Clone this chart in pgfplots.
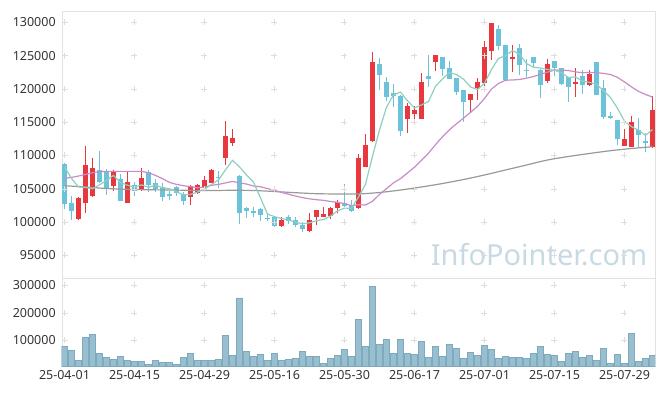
\documentclass[border=0pt]{standalone}
\usepackage{fontspec}
\setmainfont{Noto Sans}
\usepackage{pgfplots}
\usepackage{pgfplotstable}
\pgfplotsset{compat=1.18}
\definecolor{cUp}{HTML}{E9383D}
\definecolor{cDn}{HTML}{6CC3D9}
\definecolor{cMAa}{HTML}{8ECFC1}
\definecolor{cMAb}{HTML}{C98CC8}
\definecolor{cMAc}{HTML}{999999}
\definecolor{cVol}{HTML}{98BFD0}
\definecolor{cVolE}{HTML}{7FAABD}
\definecolor{cGrid}{HTML}{DDDDDD}
\definecolor{cAxis}{HTML}{E2E2E2}
\definecolor{cText}{HTML}{333333}
\definecolor{cWm}{HTML}{C7DAE4}

\pgfplotstableread{
i o h l c
2 100500 103700 100300 103600
3 102900 111400 101400 108500
4 103900 109600 103800 108100
7 105400 107800 104700 107500
9 102900 107500 102900 106000
11 105000 108100 104600 106600
18 103700 105600 102600 105400
19 104300 105700 104200 105500
20 105260 106900 105200 106300
21 105900 107960 105850 107800
23 109570 115220 108560 112920
24 111910 113920 111490 112620
31 99400 100700 99200 100300
35 98700 101300 98450 100300
36 100800 101800 99500 101800
37 100800 102300 100700 101200
38 100850 102200 100500 102030
39 102030 103300 101350 103000
42 102030 110210 101950 109660
43 108300 113170 108260 111570
44 112210 125580 112060 123990
49 115520 117830 113410 117420
50 116270 117380 115220 116820
51 115520 122330 115520 121030
53 124080 125150 122730 125080
58 118370 119250 116570 119230
59 120080 121580 118320 121030
60 120920 127140 120380 126280
61 125730 129900 124330 129850
64 124530 126540 122480 124780
69 121130 124530 120880 123730
73 120830 123060 118820 121070
75 120530 122760 120500 122230
80 111420 113920 111400 112510
81 111310 115920 111300 115020
84 111310 118930 111040 116820
}\upc

\pgfplotstableread{
i o h l c
0 108711 108800 102000 102704
1 102900 103900 100300 101700
5 107800 110600 105900 106000
6 107700 108000 104050 104900
8 106400 107200 103150 103200
10 105500 106000 103900 104600
12 107500 107800 104500 105600
13 105900 106450 104500 105000
14 105330 105800 103200 103800
15 104200 104600 103300 104000
16 105200 105400 103900 104300
17 104200 104500 102550 103200
22 106800 107700 105100 106600
25 106900 107000 99700 101400
26 102030 102200 100560 101650
27 101700 102300 100700 101400
28 102000 102050 100200 101050
29 100650 101400 100200 100450
30 100700 100900 99200 99400
32 100700 101050 99700 100200
33 100300 100700 99300 99620
34 99500 100000 98450 99000
40 102800 105700 102300 102400
41 102480 103380 101550 101700
45 123730 124560 119830 122120
46 121030 121820 118170 118820
47 119300 120700 117270 118930
48 118930 119000 112920 113710
52 121930 125080 120280 121520
54 124780 124830 122000 123030
55 123130 124130 121480 121520
56 121630 121650 119080 119570
57 119830 119850 115070 118070
62 128990 129530 125880 126480
63 126590 126600 121280 121280
65 126130 126660 122050 123650
66 122870 124480 121820 122680
67 124780 124800 123280 123810
68 122830 123000 118550 120620
70 124180 124200 121980 123130
71 123130 123150 120650 120730
72 121780 121800 118070 120320
74 121930 122760 119270 120530
76 124030 124050 119120 119120
77 120130 121330 115430 115820
78 115900 116570 115430 115700
79 115320 115350 111520 112510
82 113820 115580 111270 113070
83 112100 113320 110560 111930
}\dnc

\pgfplotstableread{
i v
0 108260
1 106550
2 105260
3 105180
4 105000
5 105580
6 106220
7 107000
8 105940
9 105520
10 105240
11 105580
12 105200
13 105560
14 105120
15 105010
16 104550
17 104070
18 104150
19 104490
20 104940
21 105640
22 106330
23 107834
24 109258
25 108278
26 107048
27 105998
28 103624
29 101200
30 100800
31 100530
32 100290
33 100004
34 99704
35 99884
36 100184
37 100384
38 100866
39 101666
40 102086
41 102066
42 103758
43 105666
44 109864
45 113808
46 117232
47 119086
48 119514
49 118200
50 117140
51 117582
52 118100
53 120374
54 121496
55 122436
56 122144
57 121454
58 120284
59 119884
60 120836
61 122892
62 124574
63 124984
64 125734
65 125208
66 123784
67 123250
68 123118
69 122908
70 122804
71 122404
72 121706
73 121796
74 121156
75 120976
76 120654
77 119754
78 118694
79 117090
80 115146
81 114326
82 113776
83 113016
84 113878
}\maA

\pgfplotstableread{
i v
0 106560
1 106700
2 106900
3 107150
4 107400
5 107560
6 107600
7 107600
8 107600
9 107600
10 107600
11 107600
12 107400
13 107000
14 106500
15 105950
16 105650
17 105450
18 105300
19 105150
20 105193
21 105498
22 105650
23 105871
24 106097
25 105867
26 105705
27 105400
28 105292
29 105017
30 104757
31 104442
32 104172
33 103903
34 103663
35 103476
36 103351
37 103251
38 103082
39 102957
40 102762
41 102457
42 102608
43 102540
44 103109
45 104145
46 105003
47 105880
48 106513
49 107359
50 108230
51 109266
52 110332
53 111605
54 112807
55 113868
56 114756
57 115600
58 116460
59 117361
60 118555
61 119963
62 120804
63 121289
64 121329
65 121405
66 121601
67 121845
68 122190
69 122506
70 122821
71 122806
72 122746
73 122546
74 122421
75 122456
76 122434
77 122321
78 122148
79 121722
80 121034
81 120292
82 119622
83 119156
84 118758
}\maB

\pgfplotstableread{
i v
0 105450
3 105260
6 105030
9 104910
12 104840
15 104810
18 104760
21 104730
24 104760
27 104730
30 104580
33 104400
36 104250
39 104210
42 104210
45 104430
48 104800
51 105260
54 105780
57 106380
60 107060
63 107810
66 108560
69 109310
72 109840
75 110290
78 110710
81 111040
84 111310
}\maC

\pgfplotstableread{
i v
0 78600
1 64300
2 28600
3 110700
4 121400
5 53600
6 39300
7 32100
8 42900
9 28600
10 25000
11 25000
12 14300
13 28600
14 21400
15 21400
16 14300
17 39300
18 53600
19 28600
20 28600
21 28600
22 32100
23 117800
24 46400
25 253500
26 60700
27 42900
28 50000
29 28600
30 53600
31 28600
32 32100
33 35700
34 60700
35 42900
36 42900
37 17900
38 35700
39 46400
40 67900
41 42900
42 175000
43 78600
44 293900
45 85700
46 103600
47 53600
48 103600
49 53600
50 50000
51 96400
52 39300
53 78600
54 42900
55 85700
56 71400
57 35700
58 57100
59 46400
60 82100
61 67900
62 35700
63 42900
64 39300
65 39300
66 35700
67 53600
68 78600
69 50000
70 46400
71 25000
72 53600
73 60700
74 39300
75 46400
76 28600
77 71400
78 17900
79 50000
80 17900
81 125000
82 25000
83 35700
84 46400
}\vol

\pgfplotsset{
  panel/.style={
    scale only axis, width=593.3pt,
    xmin=-0.4, xmax=84.36,
    axis line style={cAxis},
    major tick length=0pt,
    scaled y ticks=false, scaled x ticks=false,
    xtick={0,10,20,30,40,50,60,70,80},
    tick label style={font=\fontsize{12.5}{14}\selectfont, text=cText},
    yticklabel style={xshift=-2.5pt},
    clip=true,
  },
  wick/.style={draw=none, mark=none, forget plot,
    error bars/.cd, y dir=both, y explicit, error mark=none,
    error bar style={draw=#1, solid, line width=1.1pt}},
  body/.style={draw=none, mark=none, forget plot,
    error bars/.cd, y dir=both, y explicit, error mark=none,
    error bar style={draw=#1, solid, line width=4.6pt}},
}

\begin{document}
\begin{tikzpicture}
\node[text=cWm, font=\fontsize{29}{30}\selectfont] at (539pt,141pt) {InfoPointer.com};

\begin{axis}[panel, at={(61.7pt,118pt)}, anchor=south west, height=267pt,
  ymin=91590, ymax=131690,
  ytick={95000,100000,105000,110000,115000,120000,125000,130000},
  yticklabels={95000,100000,105000,110000,115000,120000,125000,130000},
  xticklabels={}]
\pgfplotsinvokeforeach{0,10,20,30,40,50,60,70,80}{
  \addplot[only marks, mark=+, mark size=3pt, cGrid, forget plot]
    coordinates {(#1,95000)(#1,100000)(#1,105000)(#1,110000)(#1,115000)(#1,120000)(#1,125000)(#1,130000)};
}
% wicks
\addplot[wick=cUp] table[x=i, y expr=(\thisrow{h}+\thisrow{l})/2,
  y error plus expr=(\thisrow{h}-\thisrow{l})/2,
  y error minus expr=(\thisrow{h}-\thisrow{l})/2] {\upc};
\addplot[wick=cDn] table[x=i, y expr=(\thisrow{h}+\thisrow{l})/2,
  y error plus expr=(\thisrow{h}-\thisrow{l})/2,
  y error minus expr=(\thisrow{h}-\thisrow{l})/2] {\dnc};
% bodies
\addplot[body=cUp] table[x=i, y expr=(\thisrow{o}+\thisrow{c})/2,
  y error plus expr=(\thisrow{c}-\thisrow{o})/2,
  y error minus expr=(\thisrow{c}-\thisrow{o})/2] {\upc};
\addplot[body=cDn] table[x=i, y expr=(\thisrow{o}+\thisrow{c})/2,
  y error plus expr=(\thisrow{o}-\thisrow{c})/2,
  y error minus expr=(\thisrow{o}-\thisrow{c})/2] {\dnc};
% moving averages
\addplot[cMAc, line width=1.2pt, smooth, mark=none] table[x=i,y=v] {\maC};
\addplot[cMAb, line width=1.2pt, mark=none] table[x=i,y=v] {\maB};
\addplot[cMAa, line width=1.2pt, mark=none] table[x=i,y=v] {\maA};
\end{axis}

\begin{axis}[panel, at={(61.7pt,29.3pt)}, anchor=south west, height=88.7pt,
  ymin=5700, ymax=325000,
  ytick={100000,200000,300000},
  yticklabels={100000,200000,300000},
  xticklabels={25-04-01,25-04-15,25-04-29,25-05-16,25-05-30,25-06-17,25-07-01,25-07-15,25-07-29}]
\pgfplotsinvokeforeach{0,10,20,30,40,50,60,70,80}{
  \addplot[only marks, mark=+, mark size=3pt, cGrid, forget plot]
    coordinates {(#1,100000)(#1,200000)(#1,300000)};
}
\addplot[ybar, bar width=6pt, bar shift=0pt, fill=cVol, draw=cVolE, line width=0.6pt] table[x=i,y=v] {\vol};
\end{axis}
\pgfresetboundingbox
\path[use as bounding box] (0pt,0pt) rectangle (665pt,396pt);
\end{tikzpicture}
\end{document}
